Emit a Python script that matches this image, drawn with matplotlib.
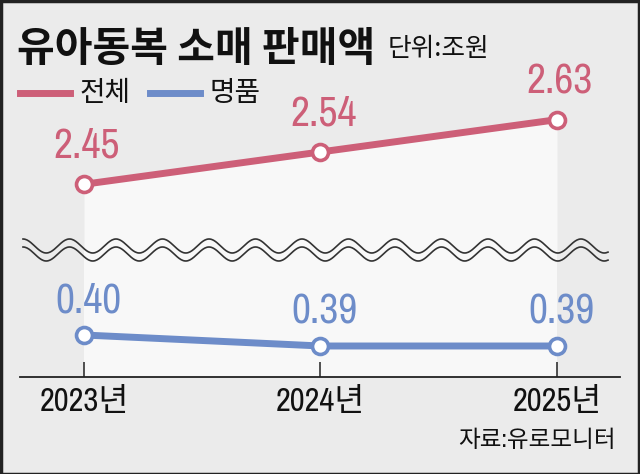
import numpy as np
import matplotlib
matplotlib.use("Agg")
import matplotlib.pyplot as plt
from matplotlib import font_manager
from matplotlib.patches import Rectangle

plt.rcParams['font.family'] = ['Noto Sans CJK KR', 'DejaVu Sans']

# ── DATA ──────────────────────────────────────────────
years = [2023, 2024, 2025]
year_labels = ["2023년", "2024년", "2025년"]
total = [2.45, 2.54, 2.63]      # 전체
luxury = [0.40, 0.39, 0.39]     # 명품

RED = "#cd5f78"
BLUE = "#6d8cc9"
BG = "#ebebeb"
FILL = "#f8f8f8"

# pick a narrow face for the digits if one is installed
names = {f.name for f in font_manager.fontManager.ttflist}
narrow = [n for n in names if 'Narrow' in n or 'Condensed' in n]
cond_stretch = [f.name for f in font_manager.fontManager.ttflist
                if str(f.stretch) in ('condensed', 'semi-condensed', '75', '87')]
NUM_FONT = sorted(narrow) + ['Noto Sans CJK KR']
STRETCH = 'normal'
if not narrow and 'DejaVu Sans' in cond_stretch:
    NUM_FONT = ['DejaVu Sans', 'Noto Sans CJK KR']
    STRETCH = 'condensed'

W, H = 640, 474
fig = plt.figure(figsize=(W / 100, H / 100), dpi=100, facecolor=BG)

def frac(x0, y0, x1, y1):
    # pixel box (top-left origin) -> figure fraction [l, b, w, h]
    return [x0 / W, 1 - y1 / H, (x1 - x0) / W, (y1 - y0) / H]

xlim = (2022.7294, 2025.2664)

ax1 = fig.add_axes(frac(20, 55, 620, 250))   # 전체
ax2 = fig.add_axes(frac(20, 250, 620, 377))  # 명품

ax1.set_ylim(2.267, 2.81)
ax2.set_ylim(0.3618, 0.4773)

for ax in (ax1, ax2):
    ax.set_xlim(*xlim)
    ax.set_facecolor("none")
    for s in ax.spines.values():
        s.set_visible(False)
    ax.set_yticks([])

ax1.set_xticks([])
lo1 = ax1.get_ylim()[0]
ax1.fill_between(years, total, lo1, color=FILL, lw=0, zorder=1)
lo2, hi2 = ax2.get_ylim()
ax2.fill_between(years, [lo2] * 3, [hi2] * 3, color=FILL, lw=0, zorder=1)

mk = dict(marker='o', markersize=11.5, markerfacecolor='white',
          markeredgewidth=2.6, solid_capstyle='butt')
ax1.plot(years, total, color=RED, lw=5, markeredgecolor=RED, zorder=3,
         clip_on=False, **mk)
ax2.plot(years, luxury, color=BLUE, lw=5, markeredgecolor=BLUE, zorder=3,
         clip_on=False, **mk)

for x, v in zip(years, total):
    ax1.annotate(f"{v:.2f}", (x, v), xytext=(2, 14), textcoords='offset points',
                 ha='center', va='bottom', color=RED, fontsize=30,
                 family=NUM_FONT, fontstretch=STRETCH, annotation_clip=False)
for x, v in zip(years, luxury):
    ax2.annotate(f"{v:.2f}", (x, v), xytext=(3, 11), textcoords='offset points',
                 ha='center', va='bottom', color=BLUE, fontsize=30,
                 family=NUM_FONT, fontstretch=STRETCH, annotation_clip=False)

# baseline + ticks
ax2.spines['bottom'].set_visible(True)
ax2.spines['bottom'].set_color('#222222')
ax2.spines['bottom'].set_linewidth(1.3)
ax2.set_xticks(years)
ax2.set_xticklabels(year_labels, family=NUM_FONT, fontstretch=STRETCH,
                    fontsize=23.5, color='#111111')
ax2.tick_params(axis='x', direction='in', length=11, width=1.1,
                color='#222222', pad=7)

# break marks (two parallel waves)
xs = np.linspace(23, 608, 600)
for yc in (246, 254):
    ys = yc - 7 * np.cos(2 * np.pi * (xs - 23) / 46.5)
    fig.add_artist(plt.Line2D(xs / W, 1 - ys / H, transform=fig.transFigure,
                              color='#333333', lw=1.2))

# title and legend
fig.text(17 / W, 1 - 61 / H, "유아동복 소매 판매액", fontsize=29.5, fontweight='bold',
         color='#111111', va='baseline', ha='left')
fig.text(388 / W, 1 - 56 / H, "단위:조원", fontsize=18.5, color='#111111',
         va='baseline', ha='left')

fig.add_artist(plt.Line2D([20 / W, 70 / W], [1 - 93 / H] * 2,
                          transform=fig.transFigure, color=RED, lw=5))
fig.text(80 / W, 1 - 93 / H, "전체", fontsize=20, color='#111111',
         va='center', ha='left')
fig.add_artist(plt.Line2D([150 / W, 200 / W], [1 - 93 / H] * 2,
                          transform=fig.transFigure, color=BLUE, lw=5))
fig.text(210 / W, 1 - 93 / H, "명품", fontsize=20, color='#111111',
         va='center', ha='left')

fig.text(616 / W, 1 - 440 / H, "자료:유로모니터", fontsize=17, color='#111111',
         va='center', ha='right', family=NUM_FONT, fontstretch=STRETCH)

# frame
fig.add_artist(Rectangle((0.5 / W, 0.5 / H), 1 - 1.5 / W, 1 - 1.5 / H,
                         transform=fig.transFigure, fill=False,
                         edgecolor='#222222', lw=2.5))

fig.savefig("out.png", dpi=100, facecolor=BG)
